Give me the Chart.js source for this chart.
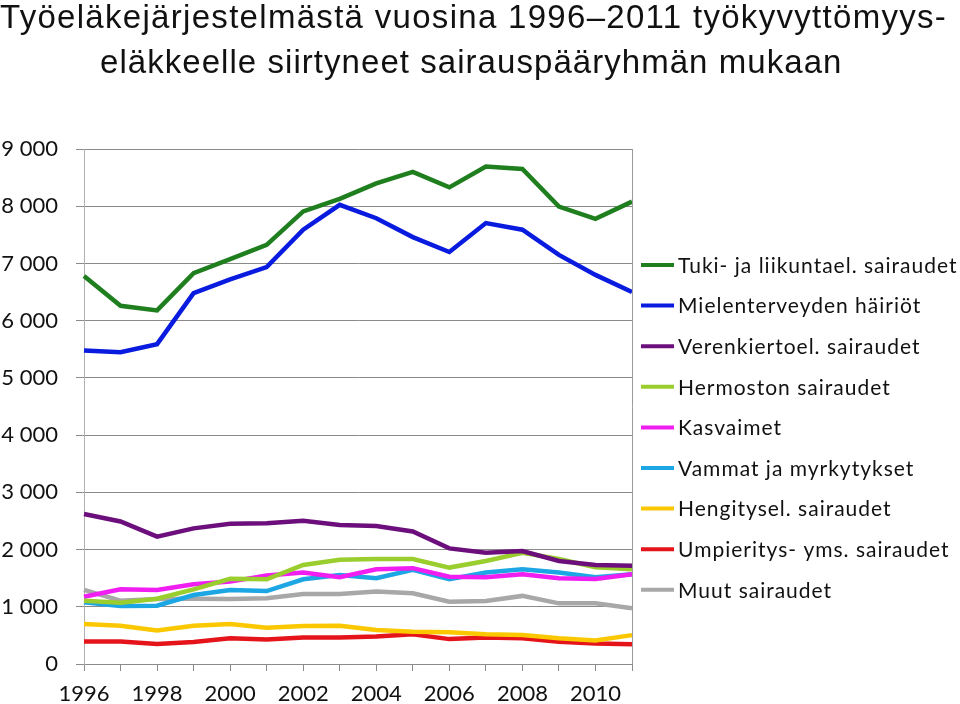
<!DOCTYPE html>
<html>
<head>
<meta charset="utf-8">
<script src="https://cdn.jsdelivr.net/npm/chart.js@4.4.0/dist/chart.umd.min.js"></script>
<style>
  html, body { margin: 0; padding: 0; background: #fff; }
  #wrap { position: relative; width: 960px; height: 704px; overflow: hidden; }
  #chart { position: absolute; left: 0; top: 0; }
  .title { position: absolute; font-family: "Liberation Sans", Arial, sans-serif; font-size: 33px; color: #111; white-space: nowrap; line-height: 1; }
  #t1 { left: 0; top: 0; letter-spacing: 1.3px; }
  #t2 { left: 100px; top: 45px; letter-spacing: 1.05px; }
</style>
</head>
<body>
<div id="wrap">
  <canvas id="chart" width="960" height="704"></canvas>
  <div class="title" id="t1">Työeläkejärjestelmästä vuosina 1996–2011 työkyvyttömyys-</div>
  <div class="title" id="t2">eläkkeelle siirtyneet sairauspääryhmän mukaan</div>
</div>
<script>
const years = ['1996','1997','1998','1999','2000','2001','2002','2003','2004','2005','2006','2007','2008','2009','2010','2011'];
const yTicks = [0, 1000, 2000, 3000, 4000, 5000, 6000, 7000, 8000, 9000];

const tuki     = [6780, 6260, 6180, 6830, 7075, 7325, 7910, 8130, 8400, 8600, 8330, 8695, 8650, 7995, 7780, 8080];
const mieli    = [5480, 5450, 5590, 6480, 6720, 6935, 7590, 8025, 7790, 7460, 7200, 7705, 7590, 7150, 6800, 6500];
const veren    = [2620, 2490, 2225, 2370, 2450, 2460, 2505, 2430, 2410, 2315, 2020, 1945, 1975, 1800, 1730, 1715];
const hermo    = [1105, 1070, 1140, 1305, 1490, 1480, 1730, 1820, 1835, 1835, 1685, 1800, 1945, 1835, 1690, 1655];
const kasvaim  = [1175, 1305, 1295, 1395, 1440, 1545, 1600, 1515, 1655, 1675, 1525, 1515, 1570, 1500, 1485, 1570];
const vammat   = [1080, 1015, 1020, 1205, 1295, 1275, 1480, 1555, 1500, 1645, 1480, 1600, 1655, 1600, 1515, 1570];
const hengit   = [700, 670, 585, 670, 700, 635, 665, 670, 595, 565, 555, 520, 505, 450, 410, 505];
const umpier   = [395, 395, 350, 385, 450, 430, 465, 465, 480, 520, 435, 465, 450, 390, 360, 345];
const muut     = [1295, 1105, 1135, 1140, 1135, 1150, 1225, 1225, 1265, 1235, 1090, 1100, 1190, 1060, 1060, 975];

const seriesNames = ['Tuki- ja liikuntael. sairaudet', 'Mielenterveyden häiriöt', 'Verenkiertoel. sairaudet',
  'Hermoston sairaudet', 'Kasvaimet', 'Vammat ja myrkytykset', 'Hengitysel. sairaudet',
  'Umpieritys- yms. sairaudet', 'Muut sairaudet'];
const seriesData = [tuki, mieli, veren, hermo, kasvaim, vammat, hengit, umpier, muut];
const seriesColors = ['#1f7f1f', '#0a1be0', '#6c0f7c', '#9acd2e', '#f01ef0', '#1ca6e4', '#fbc800', '#e4141a', '#a8a8a8'];

const datasets = seriesNames.map((name, i) => ({
  label: name,
  data: seriesData[i],
  borderColor: seriesColors[i],
  backgroundColor: seriesColors[i],
  borderWidth: 4.5,
  pointRadius: 0,
  tension: 0,
  fill: false
}));
// draw order: later datasets painted first, so top series sit on top
datasets.forEach((d, i) => { d.order = i; });

const sideLegend = {
  id: 'sideLegend',
  afterDraw(chart) {
    const ctx = chart.ctx;
    const a = chart.chartArea;
    ctx.save();
    // right frame line
    ctx.strokeStyle = '#9a9a9a';
    ctx.lineWidth = 1;
    ctx.beginPath();
    ctx.moveTo(a.right + 0.5, a.top);
    ctx.lineTo(a.right + 0.5, a.bottom);
    ctx.stroke();
    // legend
    ctx.font = '21px Lato, "Open Sans", sans-serif';
    ctx.letterSpacing = '1px';
    ctx.textBaseline = 'middle';
    chart.data.datasets.forEach((ds, i) => {
      const y = 265 + i * 40.6;
      ctx.strokeStyle = ds.borderColor;
      ctx.lineWidth = 4;
      ctx.beginPath();
      ctx.moveTo(641, y);
      ctx.lineTo(674, y);
      ctx.stroke();
      ctx.fillStyle = '#111';
      ctx.fillText(ds.label, 678, y + 1);
    });
    ctx.restore();
  }
};

new Chart(document.getElementById('chart'), {
  type: 'line',
  data: { labels: years, datasets: datasets },
  options: {
    responsive: false,
    animation: false,
    layout: { padding: { top: 149, right: 328, left: 0, bottom: 0 } },
    plugins: { legend: { display: false }, tooltip: { enabled: false } },
    scales: {
      x: {
        offset: false,
        grid: { drawOnChartArea: false, drawTicks: true, tickLength: 7, color: '#8a8a8a' },
        border: { display: true, color: '#8a8a8a' },
        ticks: {
          autoSkip: false, maxRotation: 0, padding: 10, color: '#111',
          font: { family: 'Lato, "Open Sans", sans-serif', size: 22 },
          callback: (v, i) => (i % 2 === 0 ? years[i] : '')
        },
        afterFit: (s) => { s.height = 40; }
      },
      y: {
        min: 0, max: 9000,
        afterBuildTicks: (s) => { s.ticks = yTicks.map(v => ({ value: v })); },
        grid: { color: '#8a8a8a', tickLength: 8, lineWidth: 1 },
        border: { display: true, color: '#b0b0b0' },
        ticks: {
          padding: 18, color: '#111',
          font: { family: 'Lato, "Open Sans", sans-serif', size: 22 },
          callback: (v) => String(v).replace(/\B(?=(\d{3})+(?!\d))/g, ' ')
        },
        afterFit: (s) => { s.width = 84; }
      }
    }
  },
  plugins: [sideLegend]
});
</script>
</body>
</html>
